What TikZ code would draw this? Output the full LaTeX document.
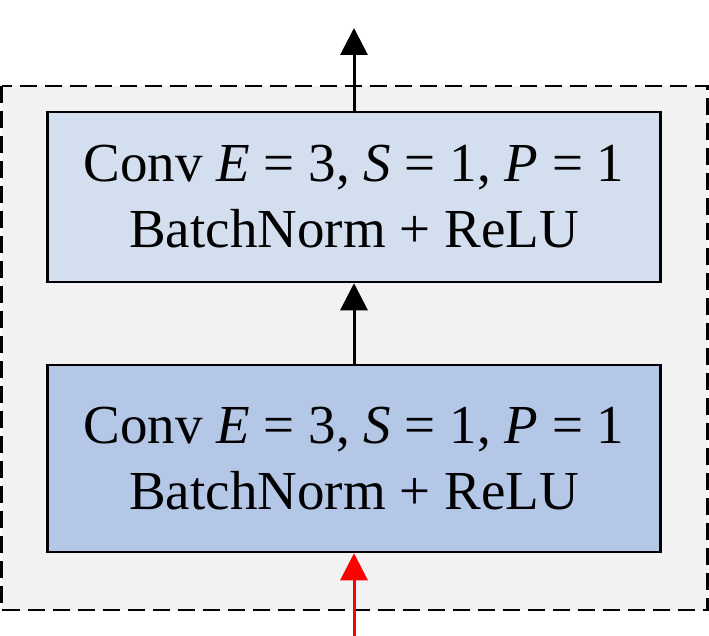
\documentclass[tikz,border=0pt]{standalone}
\usepackage{fontspec}
\setmainfont{Liberation Serif}
\usetikzlibrary{arrows.meta}
\definecolor{fondo}{HTML}{F2F2F2}
\definecolor{azulclaro}{HTML}{D3DEEF}
\definecolor{azul}{HTML}{B4C7E7}
\begin{document}
\begin{tikzpicture}[x=1pt, y=-1pt,
  flecha/.style={line width=3pt, -{Triangle[length=27pt,width=27pt]}},
  bloque/.style={draw, line width=2.5pt, minimum width=613pt, align=center,
    font=\fontsize{55}{66}\selectfont}]

  \useasboundingbox (0,0) rectangle (709,636);

  % Marco (punteado)
  \draw[fill=fondo, line width=2.3pt, dash pattern=on 17pt off 8pt] (1.5,86) rectangle (707.5,610);

  % Bloques
  \node[bloque, fill=azulclaro, minimum height=170pt] (conv2) at (354,197)
    {Conv \textit{E} = 3, \textit{S} = 1, \textit{P} = 1\\BatchNorm + ReLU};
  \node[bloque, fill=azul, minimum height=187pt] (conv1) at (354,458.5)
    {Conv \textit{E} = 3, \textit{S} = 1, \textit{P} = 1\\BatchNorm + ReLU};

  \coordinate (entrada) at (354,636);
  \coordinate (salida) at (354,28);

  \draw[flecha, red] (entrada) -- (conv1.south);
  \draw[flecha] (conv1.north) -- (conv2.south);
  \draw[flecha] (conv2.north) -- (salida);

\end{tikzpicture}
\end{document}
